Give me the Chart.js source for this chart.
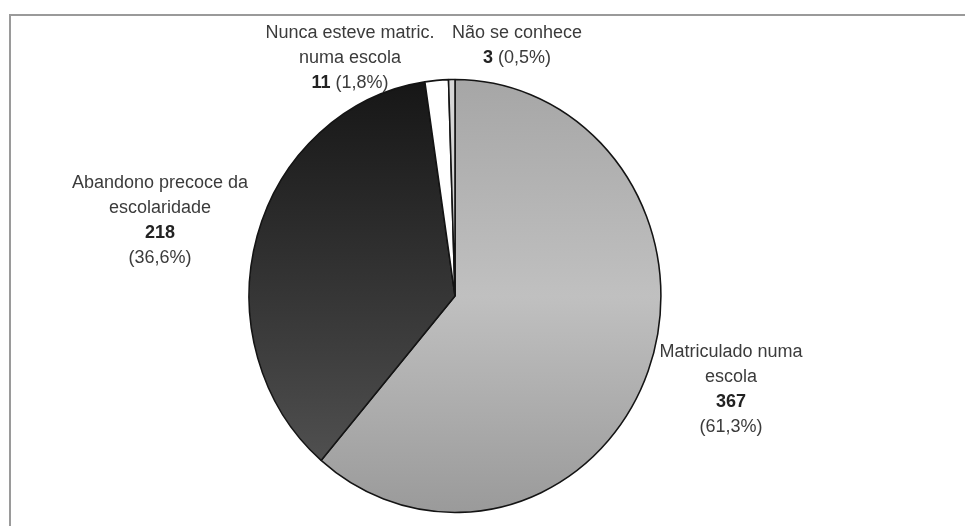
<!DOCTYPE html>
<html>
<head>
<meta charset="utf-8">
<script src="https://cdn.jsdelivr.net/npm/chart.js@4.4.1/dist/chart.umd.min.js"></script>
<style>
  html, body { margin: 0; padding: 0; background: #fff; }
  #wrap { position: relative; width: 965px; height: 526px; overflow: hidden; }
  #frame { position: absolute; left: 9px; top: 14px; right: 0; bottom: 0;
           border-top: 2px solid #9a9a9a; border-left: 2px solid #9a9a9a; }
  canvas { position: absolute; left: 0; top: 0; }
</style>
</head>
<body>
<div id="wrap">
  <div id="frame"></div>
  <canvas id="pie" width="965" height="526"></canvas>
</div>
<script>
// values, clockwise from 12 o'clock
const categories = [
  ["Matriculado numa", "escola"],
  ["Abandono precoce da", "escolaridade"],
  ["Nunca esteve matric.", "numa escola"],
  ["Não se conhece"]
];
const counts = [367, 218, 11, 3];
const percentLabels = ["(61,3%)", "(36,6%)", "(1,8%)", "(0,5%)"];

// label placement, relative to the pie centre (x offset of text centre, y of first line)
const labelOffsets = [[276, 56], [-295, -113], [-105, -263], [62, -263]];
// whether count + percent share one line
const inlineCount = [false, false, true, true];

const FONT = "Liberation Sans, Arial, Helvetica, sans-serif";

function sliceFill(ctx) {
  const chart = ctx.chart;
  const area = chart.chartArea;
  const i = ctx.dataIndex;
  if (i === 2) return "#ffffff";
  if (i === 3) return "#d6d6d6";
  if (!area) return i === 0 ? "#b4b4b4" : "#3a3a3a";
  const g = chart.ctx.createLinearGradient(0, area.top, 0, area.bottom);
  if (i === 0) {
    g.addColorStop(0, "#a6a6a6");
    g.addColorStop(0.5, "#c0c0c0");
    g.addColorStop(1, "#9a9a9a");
  } else {
    g.addColorStop(0, "#161616");
    g.addColorStop(0.6, "#3c3c3c");
    g.addColorStop(1, "#585858");
  }
  return g;
}

// the scanned pie is a little taller than wide: squeeze it into an ellipse
const squash = {
  id: "squash",
  beforeDatasetsDraw(chart) {
    const arc = chart.getDatasetMeta(0).data[0];
    const c = chart.ctx;
    c.save();
    c.translate(arc.x, arc.y);
    c.scale(0.975, 1.025);
    c.translate(-arc.x, -arc.y);
  },
  afterDatasetsDraw(chart) {
    chart.ctx.restore();
  }
};

const outsideLabels = {
  id: "outsideLabels",
  afterDraw(chart) {
    const arc = chart.getDatasetMeta(0).data[0];
    if (!arc) return;
    const cx = arc.x, cy = arc.y;
    const c = chart.ctx;
    const lh = 25;
    c.save();
    c.textBaseline = "middle";
    categories.forEach((lines, i) => {
      const x = cx + labelOffsets[i][0];
      let y = cy + labelOffsets[i][1];
      c.textAlign = "center";
      c.fillStyle = "#3b3b3b";
      c.font = "18px " + FONT;
      lines.forEach(t => { c.fillText(t, x, y); y += lh; });
      const num = String(counts[i]);
      if (inlineCount[i]) {
        c.font = "bold 18px " + FONT;
        const wn = c.measureText(num).width;
        c.font = "18px " + FONT;
        const wp = c.measureText(" " + percentLabels[i]).width;
        const x0 = x - (wn + wp) / 2;
        c.textAlign = "left";
        c.font = "bold 18px " + FONT;
        c.fillStyle = "#222";
        c.fillText(num, x0, y);
        c.font = "18px " + FONT;
        c.fillStyle = "#3b3b3b";
        c.fillText(" " + percentLabels[i], x0 + wn, y);
      } else {
        c.font = "bold 18px " + FONT;
        c.fillStyle = "#222";
        c.fillText(num, x, y);
        y += lh;
        c.font = "18px " + FONT;
        c.fillStyle = "#3b3b3b";
        c.fillText(percentLabels[i], x, y);
      }
    });
    c.restore();
  }
};

new Chart(document.getElementById("pie"), {
  type: "pie",
  data: {
    labels: categories.map(l => l.join(" ")),
    datasets: [{
      data: counts,
      backgroundColor: sliceFill,
      borderColor: "#141414",
      borderWidth: 1.6
    }]
  },
  options: {
    responsive: false,
    animation: false,
    layout: { padding: { left: 243, right: 298, top: 84, bottom: 18 } },
    plugins: {
      legend: { display: false },
      tooltip: { enabled: false }
    }
  },
  plugins: [squash, outsideLabels]
});
</script>
</body>
</html>
